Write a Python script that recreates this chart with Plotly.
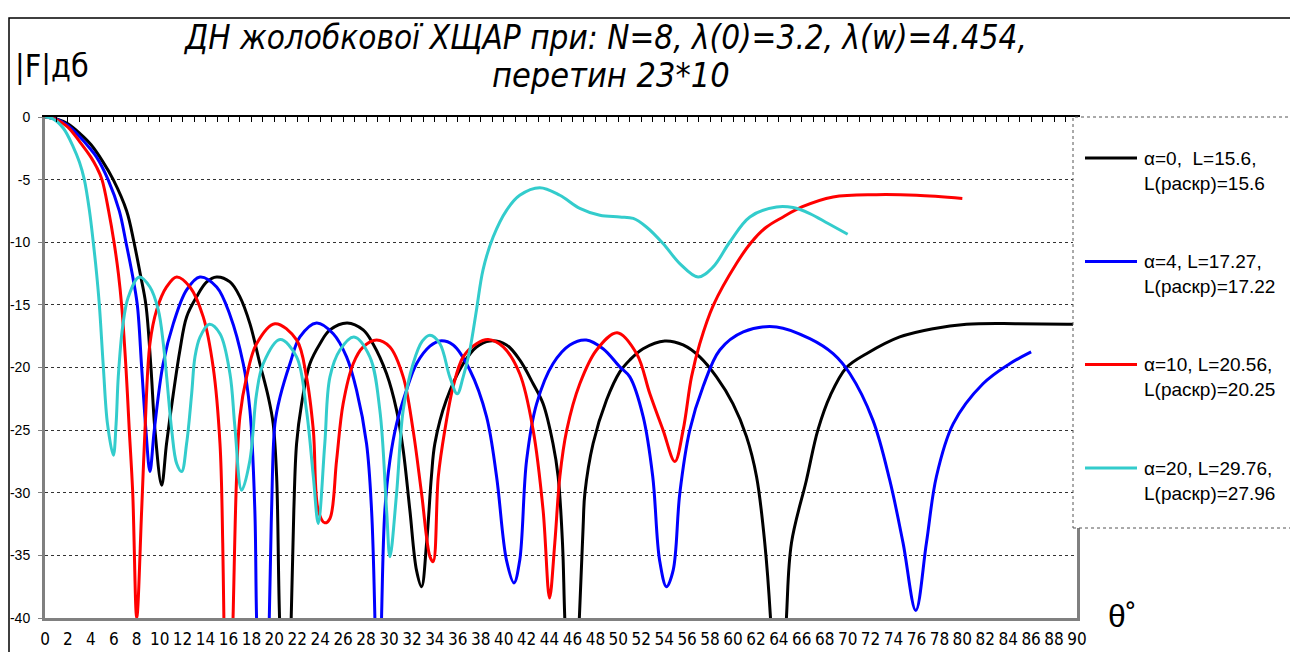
import plotly.graph_objects as go

# ---------------- data ----------------
theta_a0 = [0, 1, 2, 3.05, 4, 5, 5.95, 7.12, 7.76, 8.3, 8.8, 9.24, 9.59, 10.17, 10.6, 11.19, 11.77, 12.35,
            13.22, 14.1, 14.97, 16.13, 17.0, 17.87, 18.74, 19.47, 19.9, 20.2, 20.44, 21.0, 21.47, 21.7, 21.94,
            22.38, 23.1, 23.98, 24.85, 26.36, 27.75, 28.6, 29.79, 30.66, 31.24, 31.82, 32.4, 32.84, 33.28, 33.7,
            34.0, 35.0, 36.47, 37.63, 38.8, 40.25, 41.4, 42.57, 43.44, 44.3, 44.75, 45.13, 45.33, 46.0, 46.6,
            46.93, 47.08, 47.8, 48.97, 50.13, 51.0, 52.16, 54.05, 55.65, 57.1, 58.56, 60.0, 61.17, 62.05, 62.77,
            63.27, 64.0, 64.66, 65.1, 66.4, 67.4, 68.5, 69.9, 71.64, 74.54, 77.45, 80.36, 84.7, 90]
F_a0 = [0, -0.15, -0.55, -1.33, -2.2, -3.5, -5.0, -7.5, -10, -12.5, -15, -20, -25, -29.4, -26.07, -22.1, -18.6,
        -15.96, -14.36, -13.17, -12.77, -13.17, -14.36, -16.5, -19.7, -22.35, -24.5, -28.7, -39.5, -55, -40,
        -31.4, -26.07, -22.9, -19.7, -18.1, -17.0, -16.44, -17.0, -18.1, -20.5, -23.4, -26.6, -31.4, -36.2,
        -37.5, -34.0, -28.7, -26.07, -22.6, -19.7, -18.36, -17.88, -18.2, -19.4, -21.3, -22.9, -26.07, -28.7,
        -34.0, -40, -55, -40, -32.7, -30.06, -26.07, -22.6, -20.35, -19.4, -18.5, -17.88, -18.2, -19.15, -20.75,
        -22.9, -25.5, -28.7, -34.0, -40, -55, -40, -34.0, -29.0, -25.0, -22.2, -20.0, -18.9, -17.56, -16.9,
        -16.55, -16.5, -16.55]

theta_a4 = [0, 1, 2, 3.05, 4, 4.5, 5.5, 6.48, 7.06, 7.6, 8.05, 8.43, 8.8, 9.15, 9.53, 10.3, 11.19, 12.35, 13.51,
            14.97, 16.13, 17.29, 17.87, 18.3, 18.45, 18.95, 19.56, 19.76, 20.05, 20.5, 21.36, 22.23, 23.68,
            25.14, 26.3, 27.17, 28.04, 28.48, 28.77, 29.05, 29.35, 29.64, 30.08, 30.66, 31.53, 32.4, 33.57,
            34.44, 35.6, 37.05, 38.5, 39.38, 40.25, 40.9, 41.4, 42.0, 42.87, 44.3, 45.77, 47.2, 48.67, 50.13,
            51.0, 52.16, 53.0, 53.6, 54.2, 54.78, 55.36, 56.23, 57.4, 58.85, 60.9, 63.8, 66.7, 68.73, 70.2,
            72.2, 73.67, 74.83, 75.94, 76.87, 77.74, 79.2, 81.8, 84.13, 86.0]
F_a4 = [0, -0.18, -0.68, -1.6, -2.6, -3.2, -5, -7.5, -10, -12.5, -15, -20, -25, -28.3, -25, -19.7, -16.5, -13.8,
        -12.77, -13.57, -15.8, -19.7, -23.4, -31.4, -40, -55, -40, -31.4, -24.5, -22.35, -19.7, -17.56, -16.44,
        -17.3, -19.15, -21.8, -26.07, -31.4, -40, -55, -40, -31.4, -27.4, -24.5, -21.8, -19.7, -18.3, -17.88,
        -18.2, -20.2, -23.9, -28.7, -35.4, -37.2, -35.4, -27.4, -22.9, -19.7, -18.2, -17.8, -18.5, -19.95,
        -20.75, -23.9, -28.7, -35.4, -37.5, -36.2, -30.06, -25.0, -21.5, -18.6, -17.16, -16.76, -17.7, -18.9,
        -20.5, -24.2, -29.0, -34.0, -39.4, -34.0, -28.7, -24.5, -21.3, -19.7, -18.75]

theta_a10 = [0, 1, 2, 3.05, 4, 4.5, 4.97, 5.55, 6.02, 6.4, 6.68, 7.06, 7.35, 7.65, 8.0, 8.43, 8.72, 9.15, 9.74,
             10.6, 11.48, 12.64, 13.8, 14.67, 15.26, 15.5, 15.6, 16.0, 16.4, 16.71, 17.0, 17.58, 18.45, 20.05,
             21.94, 22.8, 23.4, 23.83, 24.4, 24.85, 25.43, 26.0, 26.88, 27.75, 28.92, 30.08, 31.24, 32.1, 32.84,
             33.57, 33.85, 34.3, 34.87, 35.6, 36.47, 37.63, 38.65, 39.96, 41.4, 42.57, 43.44, 44.0, 44.46, 44.9,
             45.5, 46.64, 48.1, 49.9, 51.6, 52.75, 53.9, 54.93, 55.65, 56.38, 57.1, 58.3, 60.3, 61.6, 62.9, 64.37,
             66.0, 68.73, 72.5, 76.0, 80.0]
F_a10 = [0, -0.2, -0.8, -2.0, -3.2, -4.0, -5, -7.5, -10, -12.5, -15, -20, -25, -30, -40, -31.4, -25.0, -18.1,
         -15.4, -13.57, -12.77, -13.57, -15.96, -20.0, -26.07, -34, -40, -55, -40, -28.7, -23.9, -20.75, -18.1,
         -16.5, -17.8, -20.75, -25.0, -31.4, -32.4, -32.05, -27.4, -22.9, -19.7, -18.36, -17.8, -18.36, -20.75,
         -25.0, -30.06, -35.1, -35.5, -28.7, -25.0, -21.5, -19.15, -18.1, -17.77, -18.36, -20.5, -25.0, -31.4,
         -38.4, -34.0, -28.7, -25.0, -21.3, -18.6, -17.22, -18.9, -22.1, -25.0, -27.5, -25.0, -20.75, -18.1, -15,
         -11.7, -10, -8.8, -7.98, -7.18, -6.38, -6.2, -6.25, -6.5]

theta_a20 = [0, 0.7, 1.6, 2.47, 3.0, 3.43, 3.88, 4.21, 4.5, 4.74, 5.09, 5.45, 5.96, 6.2, 6.39, 6.77, 7.27, 8.22,
             9.15, 9.88, 10.32, 10.61, 11.05, 11.48, 11.92, 12.35, 12.79, 13.08, 13.51, 14.33, 15.26, 16.13,
             16.56, 17.15, 17.87, 18.45, 19.03, 20.5, 21.94, 22.8, 23.4, 23.83, 24.4, 24.85, 25.72, 26.94, 28.33,
             29.2, 29.79, 30.08, 30.66, 31.24, 32.1, 32.9, 33.57, 34.44, 35.3, 35.95, 36.47, 37.05, 37.63, 38.2,
             39.08, 40.25, 41.4, 43.15, 44.9, 46.64, 48.39, 50.13, 51.3, 52.45, 53.9, 55.36, 56.96, 58.27, 59.72,
             61.47, 63.8, 65.24, 66.7, 68.3, 70.0]
F_a20 = [0, -0.15, -0.9, -2.4, -3.6, -5, -7.5, -10, -12.5, -15, -20, -24.5, -27.0, -24.5, -20.75, -16.76, -14.36,
         -12.77, -13.57, -15.4, -18.1, -20.75, -25.0, -27.66, -28.3, -26.07, -22.1, -19.15, -17.6, -16.55, -17.3,
         -20.5, -24.74, -29.8, -27.4, -22.1, -19.7, -17.77, -19.15, -23.4, -28.7, -32.45, -26.07, -20.75, -18.6,
         -17.56, -19.15, -23.4, -31.4, -35.1, -30.06, -23.4, -19.7, -17.9, -17.42, -18.1, -20.75, -22.1, -20.75,
         -18.6, -15.4, -12.2, -9.58, -7.45, -6.25, -5.64, -6.25, -7.3, -7.85, -7.98, -8.1, -8.78, -10.1, -11.7,
         -12.77, -11.97, -9.98, -7.98, -7.18, -7.23, -7.71, -8.5, -9.36]

series_names = ["α=0", "α=4", "α=10", "α=20"]
legend_line1 = ["α=0,\u00a0 L=15.6,", "α=4, L=17.27,", "α=10, L=20.56,", "α=20, L=29.76,"]
legend_line2 = ["L(раскр)=15.6", "L(раскр)=17.22", "L(раскр)=20.25", "L(раскр)=27.96"]
x_ticks = list(range(0, 91, 2))
y_ticks = [0, -5, -10, -15, -20, -25, -30, -35, -40]

title_line1 = "ДН жолобкової ХЩАР при: N=8, λ(0)=3.2, λ(w)=4.454,"
title_line2 = "перетин 23*10"
y_title = "|F|дб"
x_title = "θ˚"

# ---------------- layout geometry (screen pixels; page body adds an 8px offset) ----------------
OFF = 8
W, H = 1298 - OFF, 652 - OFF
PL, PR, PT, PB = 45, 1077, 117, 618  # plot area in screen pixels


def px(x):
    return (x - PL) / (PR - PL)


def py(y):
    return (PB - y) / (PB - PT)


colors = ["#000000", "#0000FF", "#FF0000", "#33CCCC"]
thetas = [theta_a0, theta_a4, theta_a10, theta_a20]
values = [F_a0, F_a4, F_a10, F_a20]

NARROW = "Liberation Sans Narrow, Arial Narrow, DejaVu Sans Condensed, Liberation Sans, Arial, sans-serif"
ARIAL = "Liberation Sans, Arial, sans-serif"

fig = go.Figure()
for name, th, v, c in zip(series_names, thetas, values, colors):
    fig.add_trace(go.Scatter(x=th, y=v, mode="lines", name=name, showlegend=False,
                             line=dict(color=c, width=3, shape="spline", smoothing=1.0)))

# invisible trace to carry the top axis with its small ticks
fig.add_trace(go.Scatter(x=[0, 90], y=[0, 0], xaxis="x2", mode="lines",
                         line=dict(width=0), showlegend=False, hoverinfo="skip"))

fig.update_layout(
    width=W, height=H,
    margin=dict(l=PL - OFF, r=W - (PR - OFF), t=PT - OFF, b=H - (PB - OFF), autoexpand=False),
    paper_bgcolor="white", plot_bgcolor="white",
    xaxis=dict(range=[0, 90], tickvals=x_ticks, ticktext=[str(t) for t in x_ticks], automargin=False,
               showgrid=False, zeroline=False, showline=True, linecolor="#808080", linewidth=3,
               ticks="", tickfont=dict(family=NARROW, size=17, color="black"), ticklabelstandoff=4),
    xaxis2=dict(range=[0, 90], overlaying="x", side="top", anchor="y", showgrid=False, zeroline=False,
                automargin=False, showline=True, linecolor="black", linewidth=1.5, ticks="inside", dtick=1,
                tick0=0, ticklen=5, tickwidth=1, tickcolor="black", showticklabels=False),
    yaxis=dict(range=[-40, 0], tickvals=y_ticks, ticktext=[str(t) for t in y_ticks], automargin=False,
               showgrid=True, gridcolor="#333333", griddash="dot", gridwidth=1,
               zeroline=False, showline=True, linecolor="#808080", linewidth=3, mirror=True,
               ticks="outside", ticklen=4, tickcolor="#808080",
               tickfont=dict(family=ARIAL, size=14, color="black"), ticklabelstandoff=5),
)

shapes = []
annotations = []

# outer chart frame
shapes.append(dict(type="rect", xref="paper", yref="paper", x0=px(9), x1=px(1296), y0=py(662), y1=py(18),
                   line=dict(color="black", width=1.5), fillcolor="rgba(0,0,0,0)", layer="above"))

# legend box
shapes.append(dict(type="rect", xref="paper", yref="paper", x0=px(1073), x1=px(1293), y0=py(528), y1=py(117),
                   line=dict(color="#555555", width=1, dash="dot"), fillcolor="white", layer="above"))
legend_y = [158, 261.5, 364.5, 468]
for c, ly, t1, t2 in zip(colors, legend_y, legend_line1, legend_line2):
    shapes.append(dict(type="line", xref="paper", yref="paper", x0=px(1085), x1=px(1137), y0=py(ly), y1=py(ly),
                       line=dict(color=c, width=3), layer="above"))
    annotations.append(dict(xref="paper", yref="paper", x=px(1142), y=py(ly), text=t1, showarrow=False,
                            xanchor="left", yanchor="middle", font=dict(family=ARIAL, size=19, color="black")))
    annotations.append(dict(xref="paper", yref="paper", x=px(1142), y=py(ly + 25), text=t2, showarrow=False,
                            xanchor="left", yanchor="middle", font=dict(family=ARIAL, size=19, color="black")))

# titles
annotations.append(dict(xref="paper", yref="paper", x=px(605), y=py(37), text="<i>" + title_line1 + "</i>",
                        showarrow=False, xanchor="center", yanchor="middle",
                        font=dict(family=NARROW, size=33, color="black")))
annotations.append(dict(xref="paper", yref="paper", x=px(611), y=py(75), text="<i>" + title_line2 + "</i>",
                        showarrow=False, xanchor="center", yanchor="middle",
                        font=dict(family=NARROW, size=34, color="black")))
annotations.append(dict(xref="paper", yref="paper", x=px(13), y=py(66), text=y_title,
                        showarrow=False, xanchor="left", yanchor="middle",
                        font=dict(family=NARROW, size=32, color="black")))
annotations.append(dict(xref="paper", yref="paper", x=px(1106), y=py(616), text=x_title,
                        showarrow=False, xanchor="left", yanchor="middle",
                        font=dict(family=ARIAL, size=32, color="black")))

fig.update_layout(shapes=shapes, annotations=annotations)
fig.write_html("out.html")
